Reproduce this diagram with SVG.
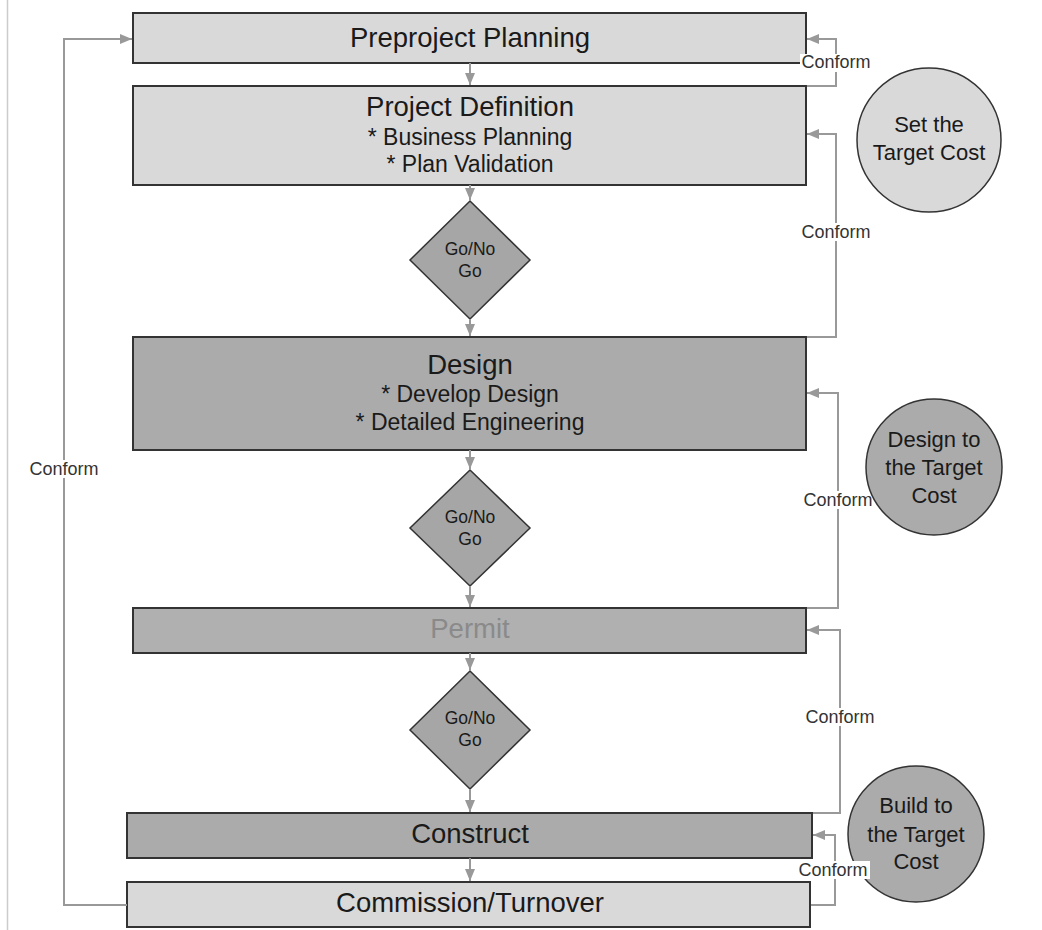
<svg xmlns="http://www.w3.org/2000/svg" width="1042" height="930" viewBox="0 0 1042 930">
  <defs>
    <marker id="arrow" viewBox="0 0 12 10" refX="12" refY="5" markerWidth="12" markerHeight="10" markerUnits="userSpaceOnUse" orient="auto">
      <path d="M0,0 L12,5 L0,10 z" fill="#999999"/>
    </marker>
    <style>
      .box { stroke: #333333; stroke-width: 2; }
      .light { fill: #d9d9d9; }
      .dark { fill: #ababab; }
      .dia { fill: #a6a6a6; stroke: #333333; stroke-width: 1.5; }
      .circ { stroke: #333333; stroke-width: 1.5; }
      text { font-family: "Liberation Sans", Arial, sans-serif; fill: #1a1a1a; text-anchor: middle; }
      .title { font-size: 27.5px; }
      .sub { font-size: 23px; }
      .gono { font-size: 17.5px; }
      .ctext { font-size: 22px; }
      .lbl { font-size: 18px; fill: #333333; }
      .lblbg { fill: #ffffff; }
      .flow { fill: none; stroke: #999999; stroke-width: 2; }
    </style>
  </defs>

  <rect width="1042" height="930" fill="#ffffff"/>
  <line x1="7.5" y1="0" x2="7.5" y2="930" stroke="#cccccc" stroke-width="1.5"/>

  <!-- process boxes -->
  <g id="preproject-planning">
    <rect class="box light" x="133" y="13" width="673" height="50"/>
    <text class="title" x="470" y="47">Preproject Planning</text>
  </g>
  <g id="project-definition">
    <rect class="box light" x="133" y="86" width="673" height="99"/>
    <text class="title" x="470" y="116">Project Definition</text>
    <text class="sub" x="470" y="145">* Business Planning</text>
    <text class="sub" x="470" y="172">* Plan Validation</text>
  </g>
  <g id="gate-1">
    <polygon class="dia" points="470,201 530,260 470,319 410,260"/>
    <text class="gono" x="470" y="255">Go/No</text>
    <text class="gono" x="470" y="277">Go</text>
  </g>
  <g id="design">
    <rect class="box dark" x="133" y="337" width="673" height="113"/>
    <text class="title" x="470" y="374">Design</text>
    <text class="sub" x="470" y="402">* Develop Design</text>
    <text class="sub" x="470" y="430">* Detailed Engineering</text>
  </g>
  <g id="gate-2">
    <polygon class="dia" points="470,470 530,528 470,586 410,528"/>
    <text class="gono" x="470" y="523">Go/No</text>
    <text class="gono" x="470" y="545">Go</text>
  </g>
  <g id="permit">
    <rect class="box" fill="#b0b0b0" x="133" y="608" width="673" height="45"/>
    <text class="title" x="470" y="638" style="fill:#8a8a8a">Permit</text>
  </g>
  <g id="gate-3">
    <polygon class="dia" points="470,671 530,730 470,789 410,730"/>
    <text class="gono" x="470" y="724">Go/No</text>
    <text class="gono" x="470" y="746">Go</text>
  </g>
  <g id="construct">
    <rect class="box dark" x="127" y="813" width="685" height="45"/>
    <text class="title" x="470" y="843">Construct</text>
  </g>
  <g id="commission-turnover">
    <rect class="box light" x="127" y="882" width="683" height="45"/>
    <text class="title" x="470" y="912">Commission/Turnover</text>
  </g>

  <!-- target cost bubbles -->
  <g id="set-target-cost">
    <circle class="circ light" cx="929" cy="140" r="72"/>
    <text class="ctext" x="929" y="132">Set the</text>
    <text class="ctext" x="929" y="160">Target Cost</text>
  </g>
  <g id="build-to-target-cost">
    <circle class="circ" fill="#ababab" cx="916" cy="834" r="68"/>
    <text class="ctext" x="916" y="813">Build to</text>
    <text class="ctext" x="916" y="842">the Target</text>
    <text class="ctext" x="916" y="869">Cost</text>
  </g>

  <!-- connectors -->
  <g id="connectors">
    <line class="flow" x1="470" y1="63" x2="470" y2="85" marker-end="url(#arrow)"/>
    <line class="flow" x1="470" y1="185" x2="470" y2="200" marker-end="url(#arrow)"/>
    <line class="flow" x1="470" y1="319" x2="470" y2="336" marker-end="url(#arrow)"/>
    <line class="flow" x1="470" y1="450" x2="470" y2="469" marker-end="url(#arrow)"/>
    <line class="flow" x1="470" y1="586" x2="470" y2="607" marker-end="url(#arrow)"/>
    <line class="flow" x1="470" y1="653" x2="470" y2="670" marker-end="url(#arrow)"/>
    <line class="flow" x1="470" y1="789" x2="470" y2="812" marker-end="url(#arrow)"/>
    <line class="flow" x1="470" y1="858" x2="470" y2="881" marker-end="url(#arrow)"/>

    <!-- conform loops back to earlier phases -->
    <path class="flow" d="M807,86 H836 V39 H807" marker-end="url(#arrow)"/>
    <path class="flow" d="M807,337 H836 V134 H807" marker-end="url(#arrow)"/>
    <path class="flow" d="M807,608 H838 V393 H807" marker-end="url(#arrow)"/>
    <path class="flow" d="M813,813 H840 V630 H807" marker-end="url(#arrow)"/>
    <path class="flow" d="M811,905 H835 V835 H813" marker-end="url(#arrow)"/>
    <path class="flow" d="M127,905 H64 V39 H132" marker-end="url(#arrow)"/>

    <rect class="lblbg" x="800" y="54" width="73" height="18"/>
    <text class="lbl" x="836" y="68">Conform</text>
    <rect class="lblbg" x="800" y="223" width="73" height="18"/>
    <text class="lbl" x="836" y="238">Conform</text>
    <rect class="lblbg" x="802" y="491" width="73" height="18"/>
    <text class="lbl" x="838" y="506">Conform</text>
    <rect class="lblbg" x="804" y="708" width="73" height="18"/>
    <text class="lbl" x="840" y="723">Conform</text>
    <rect class="lblbg" x="797" y="861" width="73" height="18"/>
    <text class="lbl" x="833" y="876">Conform</text>
    <rect class="lblbg" x="27" y="460" width="74" height="18"/>
    <text class="lbl" x="64" y="475">Conform</text>
  </g>

  <g id="design-to-target-cost">
    <circle class="circ" fill="#ababab" cx="934" cy="467" r="68"/>
    <text class="ctext" x="934" y="447">Design to</text>
    <text class="ctext" x="934" y="475">the Target</text>
    <text class="ctext" x="934" y="503">Cost</text>
  </g>
</svg>
